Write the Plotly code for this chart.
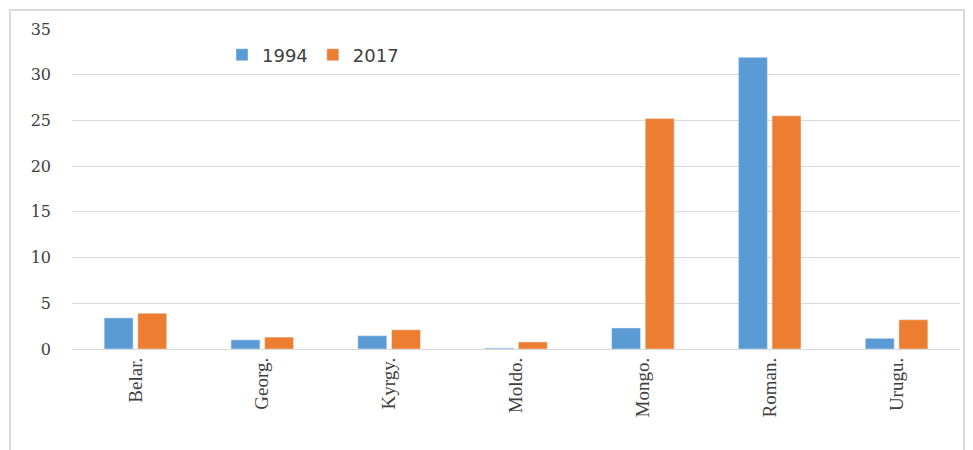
import plotly.graph_objects as go

categories = ["Belar.", "Georg.", "Kyrgy.", "Moldo.", "Mongo.", "Roman.", "Urugu."]
values_1994 = [3.4, 1.0, 1.45, 0.1, 2.3, 31.9, 1.17]
values_2017 = [3.9, 1.3, 2.1, 0.77, 25.2, 25.5, 3.2]
y_ticks = [0, 5, 10, 15, 20, 25, 30, 35]

fig = go.Figure()
fig.add_trace(go.Bar(name="1994", x=categories, y=values_1994, marker_color="#5B9BD5"))
fig.add_trace(go.Bar(name="2017", x=categories, y=values_2017, marker_color="#ED7D31"))

W, H = 973, 450
OFF = 8  # page body margin
L, R, T, B = 72 - OFF, 13 + OFF, 29 - OFF, 101 + OFF
pw = W - L - R
ph = H - T - B

def px_to_paper_x(px):
    return (px - OFF - L) / pw

def px_to_paper_y(py):
    return (H - B - (py - OFF)) / ph

fig.update_layout(
    width=W, height=H,
    margin=dict(l=L, r=R, t=T, b=B, autoexpand=False),
    paper_bgcolor="white", plot_bgcolor="white",
    barmode="group", bargap=0.47, bargroupgap=0.14,
    showlegend=True,
    legend=dict(orientation="h", x=px_to_paper_x(222), y=px_to_paper_y(55),
                xanchor="left", yanchor="middle",
                font=dict(family="DejaVu Sans", size=18, color="#404040"),
                bgcolor="rgba(0,0,0,0)", itemwidth=30),
    xaxis=dict(tickangle=-90, tickfont=dict(family="Liberation Serif", size=19, color="#404040"),
               showgrid=False, showline=False, ticks="", ticklabelstandoff=4),
    yaxis=dict(range=[0, 35], tickvals=y_ticks, showgrid=True, gridcolor="#d9d9d9", gridwidth=1,
               zeroline=True, zerolinecolor="#d9d9d9", zerolinewidth=1,
               tickfont=dict(family="DejaVu Serif", size=16, color="#404040"),
               ticks="", ticklabelstandoff=20, showline=False),
    shapes=[dict(type="rect", xref="paper", yref="paper",
                 x0=px_to_paper_x(10), x1=px_to_paper_x(964),
                 y0=px_to_paper_y(470), y1=px_to_paper_y(10),
                 line=dict(color="#d9d9d9", width=2), fillcolor="rgba(0,0,0,0)", layer="below")],
)

fig.write_html("out.html")
